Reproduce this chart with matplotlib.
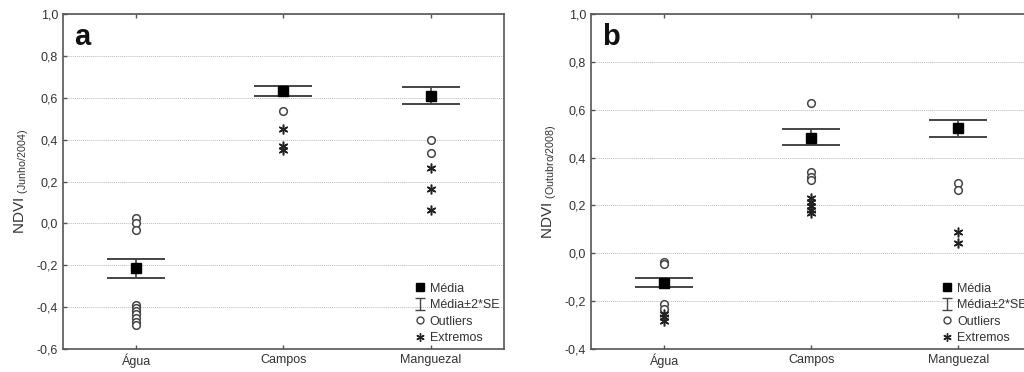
import matplotlib

matplotlib.use("Agg")
import matplotlib.pyplot as plt
import numpy as np
from matplotlib.lines import Line2D

plt.rcParams["font.family"] = ["Liberation Sans", "DejaVu Sans"]

categories = ["Água", "Campos", "Manguezal"]

# Panel a: NDVI (Junho/2004)
mean_a = [-0.215, 0.632, 0.608]
upper_a = [-0.170, 0.657, 0.652]
lower_a = [-0.262, 0.610, 0.570]
outliers_a = [
    [0.025, 0.0, -0.03, -0.39, -0.405, -0.42, -0.435, -0.45, -0.47, -0.485],
    [0.535],
    [0.40, 0.335],
]
extremes_a = [[], [0.450, 0.372, 0.352], [0.265, 0.162, 0.065]]

# Panel b: NDVI (Outubro/2008)
mean_b = [-0.125, 0.482, 0.522]
upper_b = [-0.105, 0.518, 0.558]
lower_b = [-0.142, 0.452, 0.487]
outliers_b = [
    [-0.035, -0.045, -0.212, -0.232],
    [0.628, 0.340, 0.318, 0.305],
    [0.292, 0.263],
]
extremes_b = [
    [-0.252, -0.268, -0.282],
    [0.232, 0.215, 0.198, 0.182, 0.168],
    [0.088, 0.042],
]

yticks_a = [-0.6, -0.4, -0.2, 0.0, 0.2, 0.4, 0.6, 0.8, 1.0]
yticks_b = [-0.4, -0.2, 0.0, 0.2, 0.4, 0.6, 0.8, 1.0]

DARK = "#222222"
GREY = "#444444"


def panel(ax, mean, upper, lower, outliers, extremes, yticks, letter, ylabel):
    x = list(range(len(categories)))
    yerr = [[m - lo for m, lo in zip(mean, lower)], [u - m for m, u in zip(mean, upper)]]
    ax.errorbar(x, mean, yerr=yerr, fmt="none", ecolor=GREY, elinewidth=1.2,
                capsize=21, capthick=1.4, zorder=3)
    ax.plot(x, mean, ls="none", marker="s", ms=6.5, color="black", zorder=4)
    for xi, vals in zip(x, outliers):
        ax.plot([xi] * len(vals), vals, ls="none", marker="o", ms=5.5, mfc="white",
                mec=GREY, mew=1.1, zorder=4)
    for xi, vals in zip(x, extremes):
        ax.plot([xi] * len(vals), vals, ls="none", marker=(6, 2, 0), ms=7,
                color=DARK, mew=1.1, zorder=4)

    ax.set_xlim(-0.5, len(categories) - 0.5)
    ax.set_ylim(yticks[0], yticks[-1])
    ax.set_xticks(x, categories)
    ax.set_yticks(yticks, [f"{v:.1f}".replace(".", ",") for v in yticks])
    ax.tick_params(direction="in", length=3, width=1, colors="#555555",
                   labelcolor="#333333", labelsize=9, top=True, right=False)
    ax.grid(axis="y", color="#bbbbbb", linestyle=(0, (1, 1)), linewidth=0.7)
    for s in ax.spines.values():
        s.set_color("#555555")
        s.set_linewidth(1.2)
    ax.set_ylabel(ylabel, fontsize=11, color="#333333", labelpad=4)
    ax.text(0.025, 0.975, letter, transform=ax.transAxes, fontsize=21,
            fontweight="bold", va="top", ha="left", color="#111111")

    # dummy errorbar (NaN point) only for the legend's I-beam handle
    eb = ax.errorbar([0], [np.nan], yerr=[0.1], fmt="none", ecolor=GREY,
                     elinewidth=1, capsize=3.5, capthick=1)
    handles = [
        Line2D([], [], ls="none", marker="s", ms=6, color="black"),
        eb,
        Line2D([], [], ls="none", marker="o", ms=5, mfc="white", mec=GREY),
        Line2D([], [], ls="none", marker=(6, 2, 0), ms=6, color=DARK),
    ]
    labels = ["Média", "Média±2*SE", "Outliers", "Extremos"]
    leg = ax.legend(handles, labels, loc="lower right", frameon=False,
                    fontsize=9, handlelength=0.8, handletextpad=0.4,
                    labelspacing=0.35, borderaxespad=0.3, borderpad=0.1)
    for t in leg.get_texts():
        t.set_color("#333333")


fig = plt.figure(figsize=(10.24, 3.72), dpi=100)
ax_a = fig.add_axes([0.0615, 0.062, 0.4307, 0.9])
ax_b = fig.add_axes([0.577, 0.062, 0.4307, 0.9])

panel(ax_a, mean_a, upper_a, lower_a, outliers_a, extremes_a, yticks_a, "a",
      r"NDVI $_{\mathregular{(Junho/2004)}}$")
panel(ax_b, mean_b, upper_b, lower_b, outliers_b, extremes_b, yticks_b, "b",
      r"NDVI $_{\mathregular{(Outubro/2008)}}$")

fig.savefig("out.png", dpi=100)
